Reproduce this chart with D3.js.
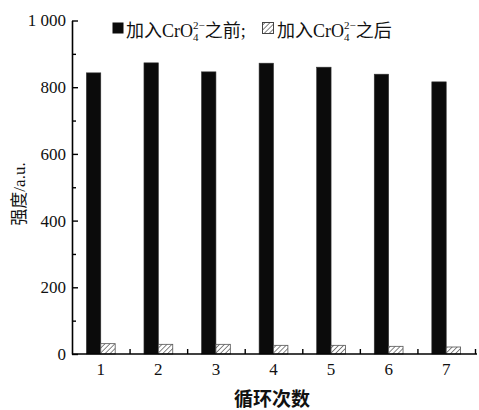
<!DOCTYPE html>
<html>
<head>
<meta charset="utf-8">
<script src="https://cdn.jsdelivr.net/npm/d3@7"></script>
<style>
body { margin: 0; background: #fff; }
text { font-family: "Liberation Serif", "Noto Sans CJK SC", serif; }
.cjk { font-family: "Noto Sans CJK SC", sans-serif; }
</style>
</head>
<body>
<script>
// data
var cycles = ["1", "2", "3", "4", "5", "6", "7"];
var before = [843, 873, 846, 872, 860, 839, 816];   // 加入CrO4 2- 之前
var after  = [31, 29, 29, 26, 26, 23, 21];          // 加入CrO4 2- 之后
var yMajor = [0, 200, 400, 600, 800, 1000];
var yMinor = [100, 300, 500, 700, 900];
var yLabels = ["0", "200", "400", "600", "800", "1 000"];

var width = 479, height = 410;
var svg = d3.select("body").append("svg").attr("width", width).attr("height", height);

var defs = svg.append("defs");
var pat = defs.append("pattern").attr("id", "hatch")
	.attr("patternUnits", "userSpaceOnUse")
	.attr("width", 3.5).attr("height", 3.5)
	.attr("patternTransform", "rotate(45)");
pat.append("rect").attr("width", 3.5).attr("height", 3.5).attr("fill", "#fff");
pat.append("line").attr("x1", 0).attr("y1", 0).attr("x2", 0).attr("y2", 3.5)
	.attr("stroke", "#444").attr("stroke-width", 1.3);

var x = d3.scaleBand().domain(cycles).range([72, 475]);
var sub = d3.scaleBand().domain(["before", "after"])
	.range([x.bandwidth() * 0.25, x.bandwidth() * 0.75]);
var y = d3.scaleLinear().domain([0, 1000]).range([354, 20.5]);
var xb = d3.scaleLinear().domain([0, cycles.length]).range(x.range());

// bars
var groups = svg.append("g").selectAll("g").data(cycles).enter().append("g")
	.attr("transform", function(d) { return "translate(" + x(d) + ",0)"; });
groups.append("rect")
	.attr("x", sub("before")).attr("width", sub.bandwidth())
	.attr("y", function(d, i) { return y(before[i]); })
	.attr("height", function(d, i) { return y(0) - y(before[i]); })
	.attr("fill", "#0b0b0b").attr("stroke", "#333").attr("stroke-width", 0.6);
groups.append("rect")
	.attr("x", sub("after")).attr("width", sub.bandwidth())
	.attr("y", function(d, i) { return y(after[i]); })
	.attr("height", function(d, i) { return y(0) - y(after[i]); })
	.attr("fill", "url(#hatch)").attr("stroke", "#555").attr("stroke-width", 0.8);

// y axis
var yAxis = svg.append("g").attr("transform", "translate(72,0)")
	.call(d3.axisLeft(y).tickValues(yMajor).tickSizeInner(-6).tickSizeOuter(0).tickPadding(6)
		.tickFormat(function(d, i) { return yLabels[i]; }));
svg.append("g").attr("transform", "translate(72,0)")
	.call(d3.axisLeft(y).tickValues(yMinor).tickSize(-4).tickFormat(""))
	.select(".domain").remove();

// x axis
var xAxis = svg.append("g").attr("transform", "translate(0,354)")
	.call(d3.axisBottom(x).tickSize(0).tickPadding(9));
xAxis.select(".domain").attr("d", "M72,0H477");
svg.append("g").attr("transform", "translate(0,354)")
	.call(d3.axisBottom(xb).tickValues(d3.range(1, cycles.length + 1)).tickSize(-5).tickFormat(""))
	.select(".domain").remove();

svg.selectAll(".domain").attr("stroke", "#000").attr("stroke-width", 1.6);
svg.selectAll(".tick line").attr("stroke", "#000").attr("stroke-width", 1.4);
svg.selectAll(".tick text").attr("font-size", 17).attr("fill", "#111")
	.style("font-family", "'Liberation Serif', serif");

// axis titles
svg.append("text").attr("class", "cjk")
	.attr("x", 272).attr("y", 406).attr("text-anchor", "middle")
	.attr("font-size", 19).attr("font-weight", "bold").attr("fill", "#111")
	.text("循环次数");
svg.append("text")
	.attr("transform", "translate(25,194) rotate(-90)")
	.attr("text-anchor", "middle").attr("font-size", 17).attr("fill", "#111")
	.text("强度/a.u.");

// legend
function legendText(xpos, tail) {
	var t = svg.append("text").attr("x", xpos).attr("y", 37).attr("font-size", 18).attr("fill", "#111");
	t.append("tspan").text("加入CrO");
	t.append("tspan").attr("font-size", 11).attr("dy", 4).text("4");
	t.append("tspan").attr("font-size", 11).attr("dx", -5.5).attr("dy", -12).text("2−");
	t.append("tspan").attr("dy", 8).text(tail);
}
svg.append("rect").attr("x", 112.5).attr("y", 22.5).attr("width", 11).attr("height", 11).attr("fill", "#0b0b0b");
legendText(126, "之前;");
svg.append("rect").attr("x", 262.5).attr("y", 22.5).attr("width", 11).attr("height", 11)
	.attr("fill", "url(#hatch)").attr("stroke", "#444").attr("stroke-width", 1);
legendText(277, "之后");
</script>
</body>
</html>
